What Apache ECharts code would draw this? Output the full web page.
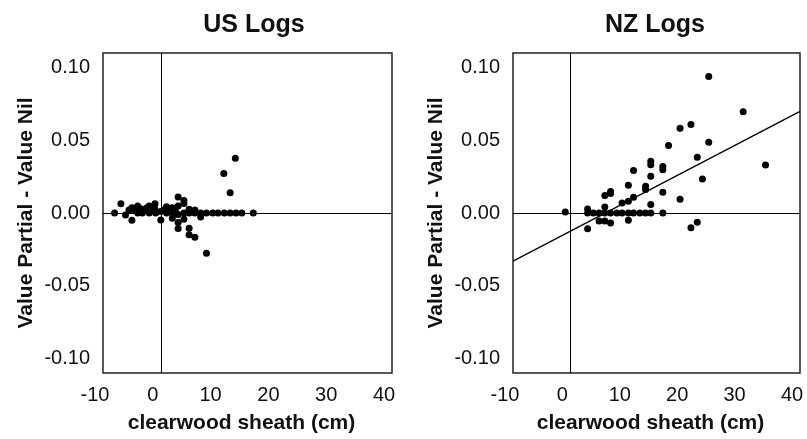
<!DOCTYPE html>
<html>
<head>
<meta charset="utf-8">
<script src="https://cdn.jsdelivr.net/npm/echarts@6/dist/echarts.min.js"></script>
<style>
html,body{margin:0;padding:0;background:#fff;}
#chart{width:807px;height:439px;}
</style>
</head>
<body>
<div id="chart"></div>
<script>
const panelTitles = ['US Logs', 'NZ Logs'];
const xName = 'clearwood sheath (cm)';
const yName = 'Value Partial - Value Nil';
const yTicks = [-0.10, -0.05, 0, 0.05, 0.10];

const usPoints = [
  [12.9, 0.0377], [10.9, 0.0271], [12.0, 0.0139], [7.9, -0.0277],
  [5.9, -0.0166], [4.9, -0.015], [4.9, -0.0105], [3.0, -0.0107], [3.0, -0.0066],
  [4.0, -0.0043], [2.0, -0.0036], [0, -0.0048], [-5.0, -0.005], [-6.1, -0.0014],
  [-8.0, 0], [-6.9, 0.0064], [3.0, 0.011], [4.0, 0.0086], [4.0, 0.0066], [3.0, 0.0048],
  [-1.0, 0.0064], [-2.0, 0.0048], [-4.0, 0.0048], [-5.0, 0.0036], [1.0, 0.0043],
  [2.0, 0.0036], [-2.9, 0.002], [-1.0, 0.0025], [0, 0.001], [4.9, 0.0025], [5.9, 0.002],
  [6.9, -0.0027], [5.9, 0], [4.9, 0], [4.0, 0], [3.0, -0.001], [2.0, 0], [1.0, 0],
  [-0.9, 0], [-2.0, 0], [-3.2, 0], [-4.0, 0], [-4.5, 0.002], [-3.5, 0.003],
  [-1.5, 0.003], [0.5, 0.002], [1.5, 0.001], [2.5, 0.002], [-2.5, 0.0035], [-5.5, 0.002],
  [6.9, 0], [7.9, 0], [9.0, 0], [9.9, 0], [11.0, 0], [12.0, 0], [13.0, 0], [14.0, 0], [16.0, 0]
];

const nzPoints = [
  [24.1, 0.0939], [30.1, 0.0696], [34.0, 0.033], [21.0, 0.0609], [19.1, 0.0582],
  [24.1, 0.0487], [17.1, 0.0464], [22.1, 0.0384], [23.0, 0.0234], [19.1, 0.0095],
  [21.0, -0.0102], [22.1, -0.0064], [14.0, 0.0355], [14.0, 0.0332], [16.1, 0.032],
  [16.1, 0.0298], [11.0, 0.0293], [14.0, 0.0252], [13.1, 0.0184], [13.1, 0.0161],
  [16.1, 0.0143], [10.1, 0.0191], [11.0, 0.0109], [10.1, 0.008], [9.0, 0.0068],
  [7.0, 0.0148], [7.0, 0.0134], [6.0, 0.012], [6.0, 0.0041], [3.0, 0.0027],
  [14.0, 0.0059], [16.1, 0], [-0.9, 0.0007], [3.0, -0.0109], [10.1, -0.005],
  [7.0, -0.0068], [6.0, -0.0055], [5.0, -0.0055],
  [3.0, 0], [4.0, 0], [5.0, 0], [6.0, 0], [7.0, 0], [8.1, 0], [9.0, 0], [10.1, 0],
  [11.0, 0], [12.1, 0], [13.1, 0], [14.0, 0]
];

const nzFitLine = [[-10, -0.0331], [40, 0.0699]];

const FONT = '"Liberation Sans", Arial, sans-serif';
const INK = '#111';

const grids = [
  {left: 103, top: 53, width: 289, height: 321},
  {left: 513, top: 53, width: 287, height: 321}
];

function xAxisFor(i) {
  return {
    gridIndex: i, type: 'value', min: -10, max: 40, interval: 10,
    axisLine: {show: false}, axisTick: {show: false}, splitLine: {show: false},
    axisLabel: {color: INK, fontSize: 20, fontFamily: FONT, margin: 12, padding: [0, 16, 0, 0]},
    name: xName, nameLocation: 'middle', nameGap: 40,
    nameTextStyle: {color: INK, fontSize: 21, fontWeight: 'bold', fontFamily: FONT, padding: [0, 12, 0, 0]}
  };
}
function yAxisFor(i) {
  return {
    gridIndex: i, type: 'value', min: -0.11, max: 0.11,
    axisLine: {show: false}, axisTick: {show: false}, splitLine: {show: false},
    axisLabel: {color: INK, fontSize: 20, fontFamily: FONT, margin: 13,
      customValues: yTicks, formatter: v => v.toFixed(2)},
    name: yName, nameLocation: 'middle', nameGap: 66, nameRotate: 90,
    nameTextStyle: {color: INK, fontSize: 21, fontWeight: 'bold', fontFamily: FONT}
  };
}
const zeroLines = {
  silent: true, symbol: 'none', animation: false,
  label: {show: false},
  lineStyle: {color: '#000', width: 1, type: 'solid'},
  data: [{xAxis: 0}, {yAxis: 0}]
};

const option = {
  animation: false,
  backgroundColor: '#fff',
  title: [
    {text: panelTitles[0], left: 249, top: 8, textAlign: 'center',
      textStyle: {color: INK, fontSize: 25, fontWeight: 'bold', fontFamily: FONT}},
    {text: panelTitles[1], left: 650, top: 8, textAlign: 'center',
      textStyle: {color: INK, fontSize: 25, fontWeight: 'bold', fontFamily: FONT}}
  ],
  grid: grids.map(g => Object.assign({show: true, borderColor: '#222', borderWidth: 1.5, backgroundColor: 'transparent'}, g)),
  xAxis: [xAxisFor(0), xAxisFor(1)],
  yAxis: [yAxisFor(0), yAxisFor(1)],
  series: [
    {type: 'scatter', xAxisIndex: 0, yAxisIndex: 0, data: usPoints, symbolSize: 7,
      itemStyle: {color: '#000', opacity: 1}, markLine: zeroLines},
    {type: 'scatter', xAxisIndex: 1, yAxisIndex: 1, data: nzPoints, symbolSize: 7,
      itemStyle: {color: '#000', opacity: 1}, markLine: zeroLines},
    {type: 'line', xAxisIndex: 1, yAxisIndex: 1, data: nzFitLine, symbol: 'none',
      lineStyle: {color: '#000', width: 1.3}}
  ]
};

const chart = echarts.init(document.getElementById('chart'), null, {renderer: 'canvas'});
chart.setOption(option);
</script>
</body>
</html>
